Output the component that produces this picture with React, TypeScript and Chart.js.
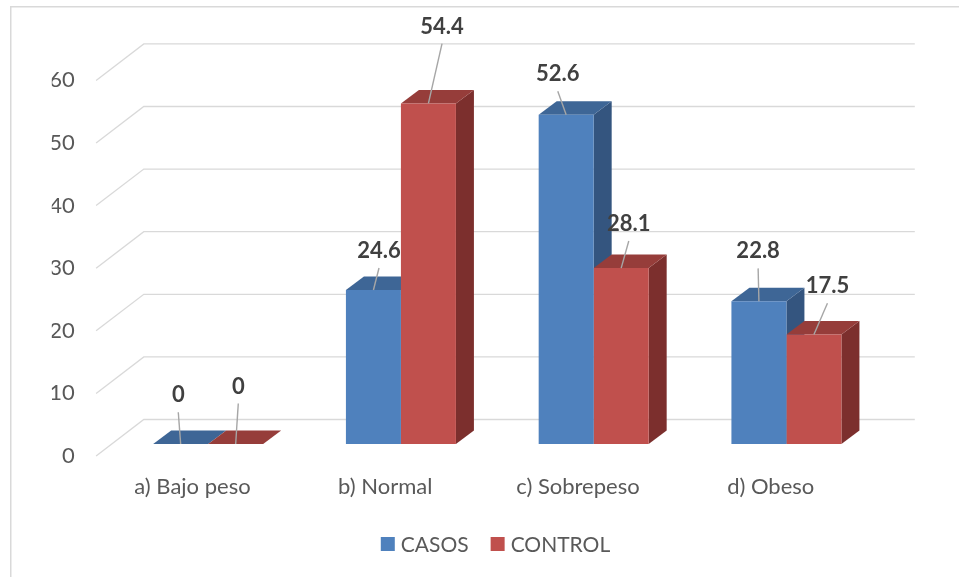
import React, { useEffect, useRef } from "react";
import { Chart, registerables } from "chart.js";

Chart.register(...registerables);

const categories = ["a) Bajo peso", "b) Normal", "c) Sobrepeso", "d) Obeso"];
const seriesNames = ["CASOS", "CONTROL"];
const casos = [0, 24.6, 52.6, 22.8];
const control = [0, 54.4, 28.1, 17.5];
const yTicks = [0, 10, 20, 30, 40, 50, 60];

// visual styling constants
const FRONT = ["#4F81BD", "#C0504D"];
const TOP = ["#3E6696", "#963D3A"];
const SIDE = ["#34557F", "#7C2F2D"];
// manual placement of data labels relative to bar front-top centre
const LABEL_OFFSETS = [
  [[-2.4, -48.7], [5.6, -39], [-8.4, -40.4], [-0.8, -49.9]],
  [[2.6, -57.5], [13.6, -76.8], [7.6, -44.1], [13.5, -48.2]],
];
const FONT = "Lato";
const BACK = { dx: 32, dy: -24.5 };
const FRONTEDGE = { dx: -15.7, dy: 12 };
const BAR_DEPTH = { dx: 18, dy: -13.5 };

const poly = (ctx: CanvasRenderingContext2D, pts: number[][], fill: string) => {
  ctx.beginPath();
  ctx.moveTo(pts[0][0], pts[0][1]);
  for (let i = 1; i < pts.length; i++) ctx.lineTo(pts[i][0], pts[i][1]);
  ctx.closePath();
  ctx.fillStyle = fill;
  ctx.fill();
};

const threeD = {
  id: "threeD",
  beforeDraw(chart: any) {
    const ctx = chart.ctx as CanvasRenderingContext2D;
    ctx.save();
    ctx.fillStyle = "#FFFFFF";
    ctx.fillRect(0, 0, chart.width, chart.height);
    ctx.strokeStyle = "#D9D9D9";
    ctx.lineWidth = 1.5;
    ctx.strokeRect(10.75, 6.75, 3000, 3000);
    ctx.restore();
  },
  beforeDatasetsDraw(chart: any) {
    const ctx = chart.ctx as CanvasRenderingContext2D;
    const area = chart.chartArea;
    const y = chart.scales.y;
    ctx.save();
    ctx.strokeStyle = "#D9D9D9";
    ctx.lineWidth = 1.3;
    for (const t of y.ticks) {
      const py = y.getPixelForValue(t.value);
      const bx = area.left + BACK.dx;
      const by = py + BACK.dy;
      ctx.beginPath();
      ctx.moveTo(area.right + BACK.dx, by);
      ctx.lineTo(bx, by);
      ctx.lineTo(area.left + FRONTEDGE.dx, py + FRONTEDGE.dy);
      ctx.stroke();
    }
    const n = chart.data.labels.length;
    for (let i = 0; i < n; i++) {
      for (let d = 0; d < chart.data.datasets.length; d++) {
        const el = chart.getDatasetMeta(d).data[i];
        const p = el.getProps(["x", "y", "base", "width"], true);
        const l = p.x - p.width / 2;
        const r = p.x + p.width / 2;
        const top = p.y;
        const base = p.base;
        const { dx, dy } = BAR_DEPTH;
        if (base - top > 0.01) {
          poly(ctx, [[r, top], [r + dx, top + dy], [r + dx, base + dy], [r, base]], SIDE[d]);
        }
        poly(ctx, [[l, top], [l + dx, top + dy], [r + dx, top + dy], [r, top]], TOP[d]);
      }
    }
    ctx.restore();
  },
  afterDatasetsDraw(chart: any) {
    const ctx = chart.ctx as CanvasRenderingContext2D;
    ctx.save();
    for (let d = 0; d < chart.data.datasets.length; d++) {
      const meta = chart.getDatasetMeta(d);
      const vals = chart.data.datasets[d].data;
      meta.data.forEach((el: any, i: number) => {
        const p = el.getProps(["x", "y"], true);
        const [ox, oy] = LABEL_OFFSETS[d][i];
        const lx = p.x + ox;
        const ly = p.y + oy;
        ctx.strokeStyle = "#A6A6A6";
        ctx.lineWidth = 1.4;
        ctx.beginPath();
        ctx.moveTo(lx, ly + 17);
        ctx.lineTo(p.x, p.y);
        ctx.stroke();
        ctx.fillStyle = "#404040";
        ctx.font = `bold 22px ${FONT}`;
        ctx.textAlign = "center";
        ctx.textBaseline = "middle";
        ctx.fillText(String(vals[i]), lx, ly);
      });
    }
    ctx.restore();
  },
  afterDraw(chart: any) {
    const ctx = chart.ctx as CanvasRenderingContext2D;
    ctx.save();
    ctx.font = `21px ${FONT}`;
    ctx.textBaseline = "middle";
    ctx.textAlign = "left";
    const box = 14;
    const gapText = 6;
    const gapItem = 22;
    const widths = seriesNames.map((s) => ctx.measureText(s).width);
    let total = 0;
    widths.forEach((w, i) => {
      total += box + gapText + w + (i < widths.length - 1 ? gapItem : 0);
    });
    let x = 495.5 - total / 2;
    const cy = 544;
    seriesNames.forEach((s, i) => {
      ctx.fillStyle = FRONT[i];
      ctx.fillRect(x, cy - box / 2, box, box);
      x += box + gapText;
      ctx.fillStyle = "#595959";
      ctx.fillText(s, x, cy + 1);
      x += widths[i] + gapItem;
    });
    ctx.restore();
  },
};

export default function App() {
  const ref = useRef<HTMLCanvasElement | null>(null);
  useEffect(() => {
    if (!ref.current) return;
    const chart = new Chart(ref.current, {
      type: "bar",
      data: {
        labels: categories,
        datasets: [
          { label: seriesNames[0], data: casos, backgroundColor: FRONT[0], borderWidth: 0 },
          { label: seriesNames[1], data: control, backgroundColor: FRONT[1], borderWidth: 0 },
        ],
      },
      options: {
        responsive: false,
        animation: false,
        layout: { padding: { left: 51.8, right: 76.2, top: 68.4, bottom: 73 } },
        datasets: { bar: { categoryPercentage: 110 / 192.75, barPercentage: 1.0 } },
        plugins: { legend: { display: false }, tooltip: { enabled: false } },
        scales: {
          x: {
            grid: { display: false, drawTicks: false },
            border: { display: false },
            ticks: {
              font: { family: FONT, size: 22 },
              color: "#595959",
              padding: 30,
              labelOffset: -15.7,
              autoSkip: false,
              maxRotation: 0,
            },
            afterFit: (s: any) => {
              s.height = 60;
            },
          },
          y: {
            min: 0,
            max: 60,
            grid: { display: false, drawTicks: false },
            border: { display: false },
            ticks: {
              stepSize: 10,
              font: { family: FONT, size: 22 },
              color: "#595959",
              padding: 37,
              labelOffset: 12,
              callback: (v: any) => (yTicks.includes(Number(v)) ? String(v) : ""),
            },
            afterFit: (s: any) => {
              s.width = 60;
            },
          },
        },
      },
      plugins: [threeD],
    });
    return () => chart.destroy();
  }, []);
  return (
    <div style={{ position: "fixed", left: 0, top: 0, width: 959, height: 577, background: "#fff" }}>
      <canvas ref={ref} width={959} height={577} style={{ display: "block" }} />
    </div>
  );
}
